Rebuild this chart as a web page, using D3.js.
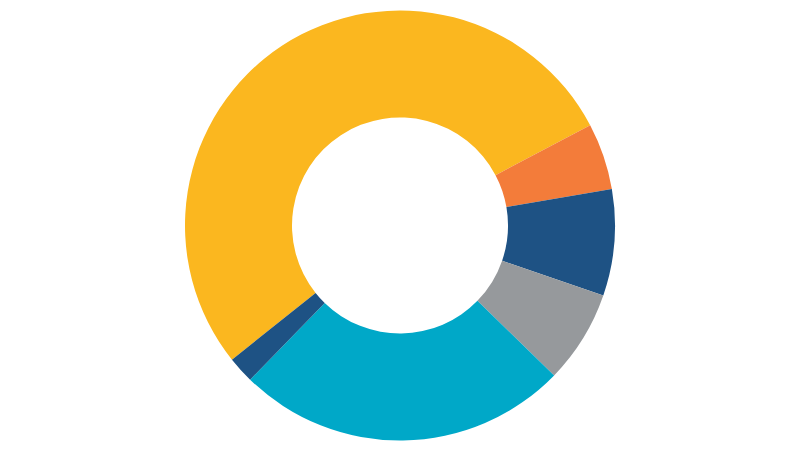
<!DOCTYPE html>
<html>
<head>
<meta charset="utf-8">
<script src="https://cdn.jsdelivr.net/npm/d3@7"></script>
<style>
  body { margin: 0; background: #fff; }
</style>
</head>
<body>
<svg id="chart" width="800" height="450"></svg>
<script>
// slice data, in drawing order (clockwise)
const categories = ["A", "B", "C", "D", "E", "F"];
const values = [53, 5, 8, 7, 25, 2];
const colors = ["#FBB71F", "#F37C3A", "#1E5284", "#96999C", "#00A8C8", "#1E5284"];

const width = 800, height = 450;
const outerR = 215, innerR = 108;

const svg = d3.select("#chart");
const g = svg.append("g")
  .attr("transform", "translate(" + width / 2 + "," + 225.5 + ")");

// first slice starts down at the lower left
const start = -128.6 * Math.PI / 180;

const pie = d3.pie()
  .sort(null)
  .value((d) => d.value)
  .startAngle(start)
  .endAngle(start + 2 * Math.PI);

const arc = d3.arc().innerRadius(innerR).outerRadius(outerR);

const data = categories.map((c, i) => ({ name: c, value: values[i], color: colors[i] }));

g.selectAll("path")
  .data(pie(data))
  .enter()
  .append("path")
  .attr("d", arc)
  .attr("fill", (d) => d.data.color);
</script>
</body>
</html>
